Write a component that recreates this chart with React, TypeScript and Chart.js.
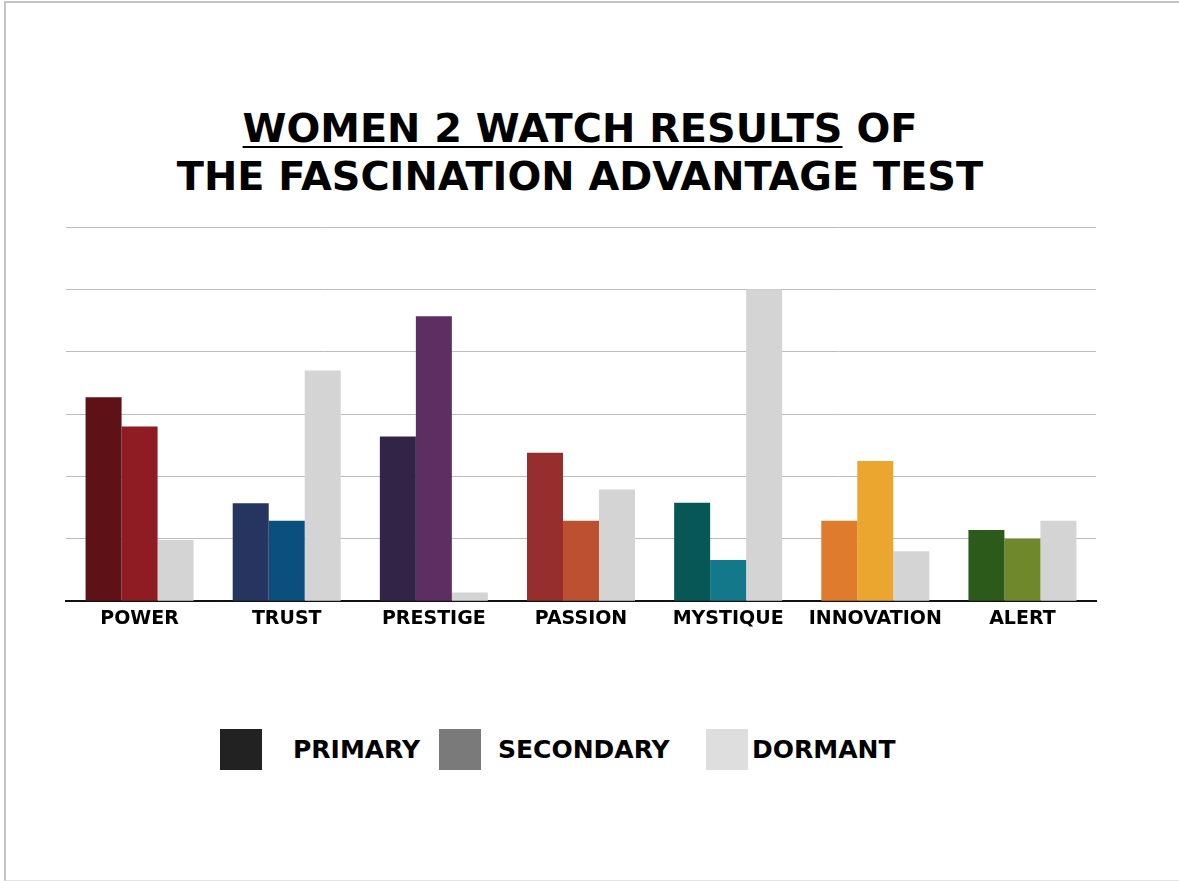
import React, { useEffect, useRef } from "react";
import { Chart, registerables } from "chart.js";

Chart.register(...registerables);

const categories = ["POWER", "TRUST", "PRESTIGE", "PASSION", "MYSTIQUE", "INNOVATION", "ALERT"];
const primaryValues = [3.27, 1.57, 2.64, 2.38, 1.58, 1.29, 1.14];
const secondaryValues = [2.8, 1.29, 4.57, 1.29, 0.66, 2.25, 1.0];
const dormantValues = [0.98, 3.7, 0.14, 1.79, 5.0, 0.8, 1.29];

const primaryColors = ["#5e1116", "#263460", "#312447", "#962e2e", "#075757", "#de7b2d", "#2c5a1b"];
const secondaryColors = ["#8e1c22", "#0b4f7e", "#5c2e62", "#bc5030", "#12788a", "#eaa62e", "#6f882c"];
const dormantColor = "#d4d4d4";

const legendLabels = ["PRIMARY", "SECONDARY", "DORMANT"];
const legendColors = ["#222222", "#7a7a7a", "#dedede"];
const legendBoxLeft = [220, 439, 706];
const legendTextLeft = [293, 498, 752];

const FONT = "'DejaVu Sans', sans-serif";

export default function App() {
  const canvasRef = useRef<HTMLCanvasElement | null>(null);

  useEffect(() => {
    if (!canvasRef.current) return;
    const chart = new Chart(canvasRef.current, {
      type: "bar",
      data: {
        labels: categories,
        datasets: [
          { label: "PRIMARY", data: primaryValues, backgroundColor: primaryColors, borderWidth: 0 },
          { label: "SECONDARY", data: secondaryValues, backgroundColor: secondaryColors, borderWidth: 0 },
          { label: "DORMANT", data: dormantValues, backgroundColor: dormantColor, borderWidth: 0 },
        ],
      },
      options: {
        responsive: false,
        animation: false,
        layout: { padding: { left: 66, right: 83, top: 227, bottom: 24 } },
        plugins: {
          legend: { display: false },
          title: { display: false },
          tooltip: { enabled: false },
        },
        datasets: {
          bar: { categoryPercentage: 0.734, barPercentage: 1.0 },
        },
        scales: {
          x: {
            grid: { display: false, drawTicks: false },
            border: { display: true, color: "#111111", width: 2 },
            ticks: {
              color: "#000000",
              padding: 6,
              font: { family: FONT, size: 19, weight: "bold" },
            },
          },
          y: {
            min: 0,
            max: 6,
            ticks: { display: false, stepSize: 1 },
            grid: { color: "#bdbdbd", lineWidth: 1, drawTicks: false },
            border: { display: false },
          },
        },
      },
    });
    return () => chart.destroy();
  }, []);

  return (
    <div>
      <div
        style={{
          position: "absolute",
          left: 4,
          top: 1,
          width: 1175,
          height: 880,
          boxSizing: "border-box",
          borderLeft: "2px solid #c4c4c4",
          borderTop: "2px solid #c4c4c4",
          borderBottom: "1px solid #e4e4e4",
        }}
      />
      <div
        style={{
          position: "absolute",
          left: 0,
          top: 104,
          width: 1160,
          textAlign: "center",
          fontFamily: FONT,
          fontWeight: "bold",
          fontSize: 39.8,
          lineHeight: "48px",
          color: "#000000",
        }}
      >
        <span style={{ textDecoration: "underline", textDecorationThickness: "2px", textUnderlineOffset: "4px" }}>
          WOMEN 2 WATCH RESULTS
        </span>{" "}
        OF
        <br />
        THE FASCINATION ADVANTAGE TEST
      </div>
      <canvas
        ref={canvasRef}
        width={1179}
        height={660}
        style={{ position: "absolute", left: 0, top: 0, width: 1179, height: 660 }}
      />
      {legendLabels.map((label, i) => (
        <React.Fragment key={label}>
          <div
            style={{
              position: "absolute",
              left: legendBoxLeft[i],
              top: 729,
              width: 42,
              height: 41,
              background: legendColors[i],
            }}
          />
          <div
            style={{
              position: "absolute",
              left: legendTextLeft[i],
              top: 729,
              lineHeight: "41px",
              fontFamily: FONT,
              fontWeight: "bold",
              fontSize: 25,
              color: "#000000",
              whiteSpace: "nowrap",
            }}
          >
            {label}
          </div>
        </React.Fragment>
      ))}
    </div>
  );
}
